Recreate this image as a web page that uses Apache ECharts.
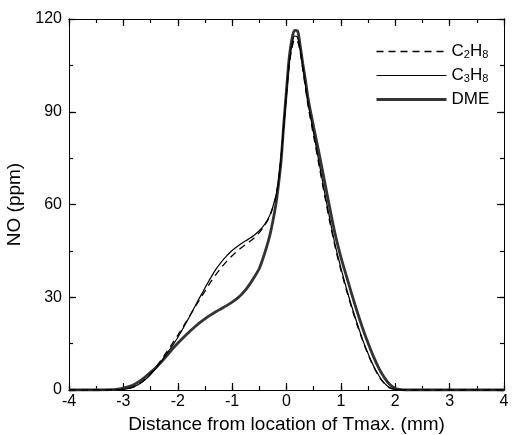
<!DOCTYPE html>
<html>
<head>
<meta charset="utf-8">
<script src="https://cdn.jsdelivr.net/npm/echarts@6/dist/echarts.min.js"></script>
<style>
  html, body { margin: 0; padding: 0; background: #fff; }
  #chart { width: 512px; height: 435px; }
</style>
</head>
<body>
<div id="chart"></div>
<script>
// distance from location of Tmax (mm)
const xs = [-4, -3.5, -3.2, -3.1, -3.0, -2.9, -2.8, -2.7, -2.6, -2.5, -2.4, -2.3, -2.2, -2.1, -2.0,
    -1.9, -1.8, -1.7, -1.6, -1.5, -1.4, -1.3, -1.2, -1.1, -1.0, -0.9, -0.8, -0.7, -0.6, -0.5,
    -0.4, -0.3, -0.2, -0.15, -0.1, -0.05, 0, 0.05, 0.1, 0.15, 0.2, 0.25, 0.3, 0.35, 0.4,
    0.5, 0.6, 0.7, 0.8, 0.9, 1.0, 1.1, 1.2, 1.3, 1.4, 1.5, 1.6, 1.7, 1.8, 1.9, 2.0, 2.1, 2.2,
    2.5, 3, 3.5, 4];

// NO (ppm)
const noC2H6 = [0, 0, 0, 0.1, 0.2, 0.5, 1.1, 2.1, 3.5, 5.3, 7.4, 9.8, 12.4, 15.0, 17.7,
    20.5, 23.4, 26.3, 29.2, 32.0, 34.8, 37.3, 39.6, 41.6, 43.4, 45.0, 46.4, 47.7, 49.1, 50.9,
    53.3, 56.5, 62.3, 67.3, 75.3, 85.5, 95.5, 105, 110.5, 113.3, 113, 109.5, 103.5, 97.5, 91.5,
    82, 72.5, 63, 54, 45.8, 38.8, 32.4, 26.5, 21, 16, 11.5, 7.6, 4.4, 2.1, 0.7, 0.15, 0, 0,
    0, 0, 0, 0];
const noC3H8 = [0, 0, 0, 0.1, 0.2, 0.5, 1.1, 2.0, 3.3, 5.0, 7.0, 9.3, 11.8, 14.3, 17.0,
    20.0, 23.2, 26.5, 29.8, 33.0, 36.1, 39.0, 41.4, 43.4, 45.1, 46.5, 47.7, 48.8, 50.0, 51.5,
    53.6, 56.8, 62.5, 67.5, 75.5, 86, 96.5, 106, 111.8, 114.5, 114.2, 110.5, 104.5, 98.5, 92.5,
    83, 73.5, 64, 55, 46.5, 39.5, 33, 27, 21.5, 16.3, 11.8, 7.8, 4.6, 2.2, 0.7, 0.15, 0, 0,
    0, 0, 0, 0];
const noDME = [0, 0, 0.1, 0.3, 0.6, 1.1, 1.8, 2.9, 4.2, 5.7, 7.3, 9.1, 11.1, 13.2, 15.1,
    16.9, 18.6, 20.2, 21.7, 23.0, 24.2, 25.3, 26.3, 27.3, 28.4, 29.7, 31.4, 33.6, 36.3, 39.3,
    44.3, 50.5, 59.5, 66, 74, 86, 97, 107.5, 113.5, 116.3, 116.2, 111.5, 105.5, 100, 94,
    85, 76.5, 67.5, 58.5, 50, 43, 37, 31, 25.3, 20, 15.2, 10.8, 7.0, 4.0, 1.8, 0.6, 0.15, 0,
    0, 0, 0, 0];

// axis ranges: major ticks and minor ticks
const xMajor = { min: -4, max: 4, interval: 1 };
const xMinor = { min: -4, max: 4, interval: 0.5 };
const yMajor = { min: 0, max: 120, interval: 30 };
const yMinor = { min: 0, max: 120, interval: 15 };

const pairs = ys => xs.map((x, i) => [x, ys[i]]);

const myChart = echarts.init(document.getElementById('chart'));

// one axis per tick set; only the main ones carry labels
function makeAxis(range, position, tickLen, extra) {
    return Object.assign({
        type: 'value',
        position: position,
        min: range.min,
        max: range.max,
        interval: range.interval,
        axisLine: { show: true, onZero: false, lineStyle: { color: '#000', width: 1 } },
        axisTick: { show: true, inside: true, length: tickLen, lineStyle: { color: '#000', width: 1.2 } },
        splitLine: { show: false },
        axisLabel: { show: false }
    }, extra);
}

const labelFont = { color: '#000', fontFamily: 'Liberation Sans', fontSize: 16 };
const nameFont = { color: '#000', fontFamily: 'Liberation Sans', fontSize: 19 };

const option = {
    backgroundColor: '#fff',
    animation: false,
    grid: { left: 69, right: 8, top: 19, bottom: 45, outerBoundsMode: 'none', containLabel: false },
    legend: {
        orient: 'vertical',
        left: 370,
        top: 38,
        itemWidth: 70,
        itemHeight: 14,
        itemGap: 7,
        itemStyle: { opacity: 0 },
        textStyle: {
            color: '#000',
            fontFamily: 'Liberation Sans',
            fontSize: 17,
            rich: {
                b: { fontFamily: 'Liberation Sans', fontSize: 17, color: '#000' },
                s: { fontFamily: 'Liberation Sans', fontSize: 11, color: '#000', verticalAlign: 'bottom', padding: [6, 0, 0, 0] }
            }
        },
        formatter: name => {
            if (name === 'DME') return '{b|DME}';
            const m = name.match(/^C(\d)H(\d)$/);
            return '{b|C}{s|' + m[1] + '}{b|H}{s|' + m[2] + '}';
        },
        data: [
            { name: 'C2H8', lineStyle: { width: 1.3 } },
            { name: 'C3H8', lineStyle: { width: 1.2 } },
            { name: 'DME', lineStyle: { width: 3 } }
        ]
    },
    xAxis: [
        makeAxis(xMajor, 'bottom', 7, {
            name: 'Distance from location of Tmax. (mm)',
            nameLocation: 'middle',
            nameGap: 24,
            nameTextStyle: nameFont,
            axisLabel: Object.assign({ show: true, margin: 4 }, labelFont)
        }),
        makeAxis(xMinor, 'bottom', 4),
        makeAxis(xMajor, 'top', 7),
        makeAxis(xMinor, 'top', 4)
    ],
    yAxis: [
        makeAxis(yMajor, 'left', 7, {
            name: 'NO (ppm)',
            nameLocation: 'middle',
            nameGap: 35,
            nameTextStyle: nameFont,
            axisLabel: Object.assign({ show: true, margin: 7 }, labelFont)
        }),
        makeAxis(yMinor, 'left', 4),
        makeAxis(yMajor, 'right', 7),
        makeAxis(yMinor, 'right', 4)
    ],
    series: [
        {
            name: 'C2H8',
            type: 'line',
            data: pairs(noC2H6),
            smooth: 0.3,
            symbol: 'none',
            lineStyle: { color: '#000', width: 1.3, type: [7, 5] },
            itemStyle: { color: '#000' },
            z: 3
        },
        {
            name: 'C3H8',
            type: 'line',
            data: pairs(noC3H8),
            smooth: 0.3,
            symbol: 'none',
            lineStyle: { color: '#000', width: 1.2 },
            itemStyle: { color: '#000' },
            z: 4
        },
        {
            name: 'DME',
            type: 'line',
            data: pairs(noDME),
            smooth: 0.3,
            symbol: 'none',
            lineStyle: { color: '#333', width: 2.8 },
            itemStyle: { color: '#333' },
            z: 2
        }
    ]
};

myChart.setOption(option);
</script>
</body>
</html>
